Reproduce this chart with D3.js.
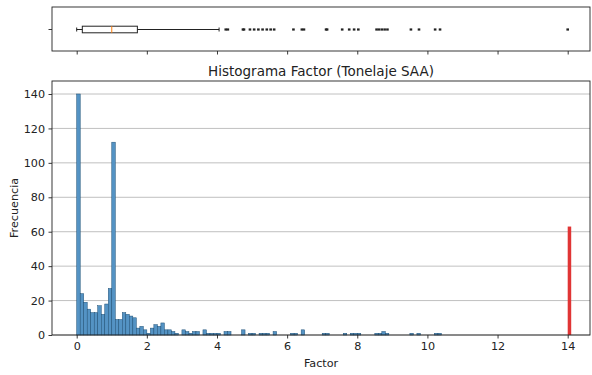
<!DOCTYPE html>
<html><head><meta charset="utf-8">
<script src="https://cdn.jsdelivr.net/npm/d3@7/dist/d3.min.js"></script>
<style>
body{margin:0;background:#fff;}
text{font-family:"DejaVu Sans",sans-serif;fill:#222;}
</style></head><body>
<svg id="c" width="592" height="375"></svg>
<script>
// ---- data ----
const binStarts = [0.0,0.1,0.2,0.3,0.4,0.5,0.6,0.7,0.8,0.9,1.0,1.1,1.2,1.3,1.4,1.5,1.6,1.7,1.8,1.9,2.0,2.1,2.2,2.3,2.4,2.5,2.6,2.7,2.8,3.0,3.1,3.2,3.3,3.4,3.6,3.7,3.8,3.9,4.0,4.2,4.3,4.7,4.9,5.0,5.2,5.3,5.4,5.6,6.1,6.2,6.4,7.0,7.1,7.6,7.8,7.9,8.0,8.5,8.6,8.7,8.8,9.5,9.7,10.2,10.3];
const counts    = [140,24,19,15,13,13,17,12,18,27,112,9,9,13,12,11,10,4,5,3,1,4,6,5,7,3,3,2,1,3,2,1,2,2,3,1,1,1,1,2,2,3,1,1,1,1,1,2,1,1,3,1,1,1,1,1,1,1,1,2,1,1,1,1,1];
const binWidth = 0.1;
const highlightStart = [14.0];
const highlightCount = [63];
const boxStats = {whiskerLow: 0.0, q1: 0.16, median: 1.0, q3: 1.73, whiskerHigh: 4.06};
const outliers = [4.25,4.31,4.74,4.77,4.94,5.06,5.18,5.30,5.42,5.53,5.63,6.18,6.42,6.48,7.11,7.14,7.57,7.77,7.91,8.03,8.55,8.62,8.70,8.78,8.86,9.53,9.76,10.22,10.36,14.0];
const xTicks = [0,2,4,6,8,10,12,14];
const yTicks = [0,20,40,60,80,100,120,140];
const title = "Histograma Factor (Tonelaje SAA)";
const xLabel = "Factor";
const yLabel = "Frecuencia";

// ---- layout ----
const svg = d3.select("#c");
const L = 52, R = 590;
const boxTop = 7, boxBot = 51;
const hTop = 81, hBot = 335;
const x = d3.scaleLinear().domain([0,14]).range([76.7,567.7]);
const y = d3.scaleLinear().domain([0,140]).range([335,94]);
const fs = 11.2;

// ---- box plot panel ----
const gb = svg.append("g");
const cy = 29.5;
gb.append("rect").attr("x",L).attr("y",boxTop).attr("width",R-L).attr("height",boxBot-boxTop)
  .attr("fill","none").attr("stroke","#222").attr("stroke-width",0.9);
gb.append("g").attr("transform",`translate(0,${boxBot})`)
  .call(d3.axisBottom(x).tickValues(xTicks).tickSize(3.5).tickFormat(""))
  .call(g=>{g.select(".domain").remove(); g.selectAll("line").attr("stroke","#222").attr("stroke-width",0.9);});
gb.append("line").attr("x1",L-3.5).attr("x2",L).attr("y1",cy).attr("y2",cy).attr("stroke","#222").attr("stroke-width",0.9);
// whiskers
gb.append("line").attr("x1",x(boxStats.whiskerLow)).attr("x2",x(boxStats.q1)).attr("y1",cy).attr("y2",cy).attr("stroke","#222").attr("stroke-width",1);
gb.append("line").attr("x1",x(boxStats.q3)).attr("x2",x(boxStats.whiskerHigh)).attr("y1",cy).attr("y2",cy).attr("stroke","#222").attr("stroke-width",1);
[boxStats.whiskerLow, boxStats.whiskerHigh].forEach(v=>{
  gb.append("line").attr("x1",x(v)).attr("x2",x(v)).attr("y1",cy-2).attr("y2",cy+2).attr("stroke","#222").attr("stroke-width",1);
});
gb.append("rect").attr("x",x(boxStats.q1)).attr("y",cy-3.3).attr("width",x(boxStats.q3)-x(boxStats.q1)).attr("height",6.6)
  .attr("fill","none").attr("stroke","#222").attr("stroke-width",1);
gb.append("line").attr("x1",x(boxStats.median)).attr("x2",x(boxStats.median)).attr("y1",cy-3.3).attr("y2",cy+3.3).attr("stroke","#ff7f0e").attr("stroke-width",1);
gb.selectAll("rect.o").data(outliers).enter().append("rect")
  .attr("x",d=>x(d)-1.3).attr("y",cy-1.1).attr("width",2.6).attr("height",2.2).attr("fill","#222");

// ---- histogram panel ----
const gh = svg.append("g");
gh.append("g").selectAll("line").data(yTicks).enter().append("line")
  .attr("x1",L).attr("x2",R).attr("y1",d=>y(d)).attr("y2",d=>y(d))
  .attr("stroke","#b0b0b0").attr("stroke-width",0.8);
gh.selectAll("rect.bar").data(binStarts.map((b,i)=>({b,c:counts[i]}))).enter().append("rect")
  .attr("x",d=>x(d.b))
  .attr("width",d=>x(d.b+binWidth)-x(d.b))
  .attr("y",d=>y(d.c)).attr("height",d=>y(0)-y(d.c))
  .attr("fill","#5493c4").attr("stroke","#1d4f75").attr("stroke-width",0.5);
gh.selectAll("rect.hl").data(highlightStart.map((b,i)=>({b,c:highlightCount[i]}))).enter().append("rect")
  .attr("x",d=>x(d.b)).attr("width",d=>x(d.b+binWidth)-x(d.b))
  .attr("y",d=>y(d.c)).attr("height",d=>y(0)-y(d.c))
  .attr("fill","#e03535");
gh.append("rect").attr("x",L).attr("y",hTop).attr("width",R-L).attr("height",hBot-hTop)
  .attr("fill","none").attr("stroke","#222").attr("stroke-width",0.9);
gh.append("g").attr("transform",`translate(0,${hBot})`)
  .call(d3.axisBottom(x).tickValues(xTicks).tickSize(3.5).tickPadding(3.5))
  .call(g=>{g.select(".domain").remove(); g.selectAll("line").attr("stroke","#222").attr("stroke-width",0.9);
    g.selectAll("text").attr("font-size",fs).attr("font-family","DejaVu Sans").attr("fill","#222");});
gh.append("g").attr("transform",`translate(${L},0)`)
  .call(d3.axisLeft(y).tickValues(yTicks).tickSize(3.5).tickPadding(3.5))
  .call(g=>{g.select(".domain").remove(); g.selectAll("line").attr("stroke","#222").attr("stroke-width",0.9);
    g.selectAll("text").attr("font-size",fs).attr("font-family","DejaVu Sans").attr("fill","#222");});
svg.append("text").attr("x",(L+R)/2).attr("y",76).attr("text-anchor","middle").attr("font-size",13.5).text(title);
svg.append("text").attr("x",(L+R)/2).attr("y",367).attr("text-anchor","middle").attr("font-size",fs).text(xLabel);
svg.append("text").attr("transform",`translate(18,${(hTop+hBot)/2}) rotate(-90)`).attr("text-anchor","middle").attr("font-size",fs).text(yLabel);
</script>
</body></html>
